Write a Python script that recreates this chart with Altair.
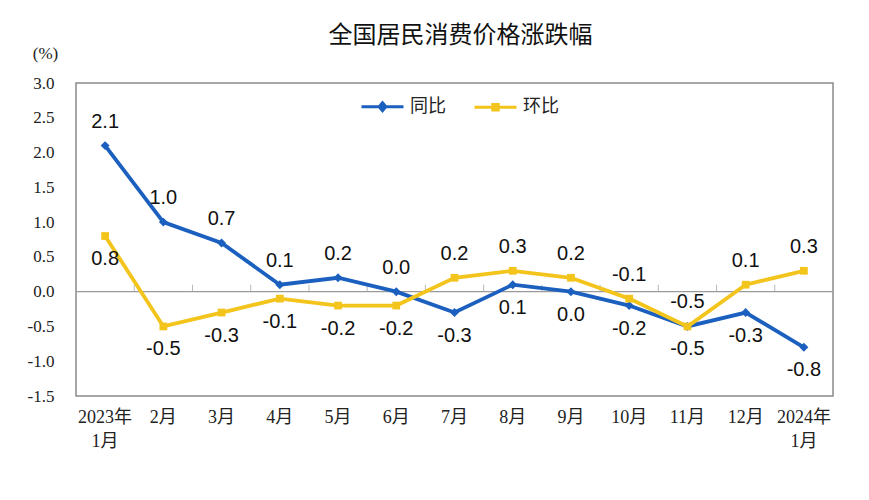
import altair as alt
import pandas as pd

months = ["2023年\n1月", "2月", "3月", "4月", "5月", "6月", "7月", "8月",
          "9月", "10月", "11月", "12月", "2024年\n1月"]
yoy = [2.1, 1.0, 0.7, 0.1, 0.2, 0.0, -0.3, 0.1, 0.0, -0.2, -0.5, -0.3, -0.8]
mom = [0.8, -0.5, -0.3, -0.1, -0.2, -0.2, 0.2, 0.3, 0.2, -0.1, -0.5, 0.1, 0.3]
yoy_side = ["above", "above", "above", "above", "above", "above", "below",
            "below", "below", "below", "below", "below", "below"]
mom_side = ["below", "below", "below", "below", "below", "below", "above",
            "above", "above", "above", "above", "above", "above"]
y_ticks = [-1.5, -1.0, -0.5, 0.0, 0.5, 1.0, 1.5, 2.0, 2.5, 3.0]
series_names = ["同比", "环比"]
series_colors = ["#1b5fbf", "#f3c41b"]

rows = []
for i, m in enumerate(months):
    rows.append({"month": m, "series": "同比", "value": yoy[i], "side": yoy_side[i],
                 "label": f"{yoy[i]:.1f}"})
    rows.append({"month": m, "series": "环比", "value": mom[i], "side": mom_side[i],
                 "label": f"{mom[i]:.1f}"})
df = pd.DataFrame(rows)

CJK = "Noto Sans CJK SC"
SERIF = "Liberation Serif, Noto Sans CJK SC"

yscale = alt.Scale(domain=[-1.5, 3.0], nice=False, zero=False)
xscale = alt.Scale(paddingInner=0, paddingOuter=0)
xaxis = alt.Axis(title=None, labelAngle=0, ticks=False, domain=False,
                 labelFont=SERIF, labelFontSize=18, labelColor="#222",
                 labelPadding=12, labelLineHeight=24,
                 labelExpr="split(datum.label, '\\n')")
yaxis = alt.Axis(title="(%)", titleAngle=0, titleX=-31, titleY=-30,
                 titleAlign="center", titleBaseline="middle",
                 titleFont=SERIF, titleFontSize=17, titleFontWeight="normal",
                 titleColor="#222",
                 values=y_ticks, labelOverlap=False,
                 labelExpr="replace(format(datum.value, '.1f'), '\u2212', '-')",
                 labelFont=SERIF, labelFontSize=17,
                 labelColor="#222", labelPadding=22, ticks=False,
                 domain=False, grid=False)

x = alt.X("month:N", sort=months, scale=xscale, axis=xaxis)
y = alt.Y("value:Q", scale=yscale, axis=yaxis)

base = alt.Chart(df)

zero_df = pd.DataFrame({"value": [0.0]})
zero = alt.Chart(zero_df).mark_rule(color="#9a9a9a", strokeWidth=1.2).encode(y=y)
ticks_df = pd.DataFrame({"month": months[1:], "value": [0.0] * (len(months) - 1)})
ticks = alt.Chart(ticks_df).mark_tick(
    orient="vertical", size=7, thickness=1, yOffset=-3.5, color="#9a9a9a").encode(
    x=alt.X("month:N", sort=months, scale=xscale, axis=xaxis, bandPosition=0),
    y=y)

layers = [zero, ticks]
shapes_plot = {"同比": "diamond", "环比": "square"}
for name, col in zip(series_names, series_colors):
    sub = base.transform_filter(alt.datum.series == name)
    layers.append(sub.mark_line(color=col, strokeWidth=3.8).encode(x=x, y=y))
    layers.append(sub.mark_point(shape=shapes_plot[name], filled=True, color=col,
                                 opacity=1, size=80 if name == "同比" else 60).encode(x=x, y=y))

legend_cfg = alt.Legend(title=None, orient="none", legendX=284, legendY=1,
                        direction="horizontal", symbolSize=1764,
                        symbolStrokeWidth=3, labelFont=CJK, labelFontSize=18,
                        labelColor="#222", columnPadding=22, labelOffset=5,
                        symbolOpacity=1)
legend_layer = base.mark_point(filled=False, opacity=0).encode(
    x=x, y=y,
    color=alt.Color("series:N", scale=alt.Scale(domain=series_names, range=series_colors),
                    legend=legend_cfg, sort=series_names),
    fill=alt.Fill("series:N", scale=alt.Scale(domain=series_names, range=series_colors),
                  legend=legend_cfg, sort=series_names),
    shape=alt.Shape("series:N", scale=alt.Scale(
        domain=series_names,
        range=["M-1,0H1M0,-0.19L0.16,0L0,0.19L-0.16,0Z",
               "M-1,0H1M-0.13,-0.13H0.13V0.13H-0.13Z"]),
        legend=legend_cfg, sort=series_names),
)
layers.append(legend_layer)

for side, dy in (("above", -24), ("below", 23)):
    layers.append(base.transform_filter(alt.datum.side == side).mark_text(
        dy=dy, font="Liberation Sans", fontSize=20, color="#111").encode(
        x=x, y=y, text="label:N"))

chart = alt.layer(*layers).properties(
    width=757, height=313,
    autosize="none",
    padding={"left": 68, "top": 75, "right": 28, "bottom": 96},
    background="#ffffff",
    title=alt.TitleParams("全国居民消费价格涨跌幅", font=CJK, fontSize=24,
                          fontWeight="normal", color="#111", anchor="middle",
                          offset=-4, dx=6),
).configure_view(stroke="#8a8a8a", strokeWidth=1.5)

chart.save("out.html", embed_options={"renderer": "svg", "actions": False})
